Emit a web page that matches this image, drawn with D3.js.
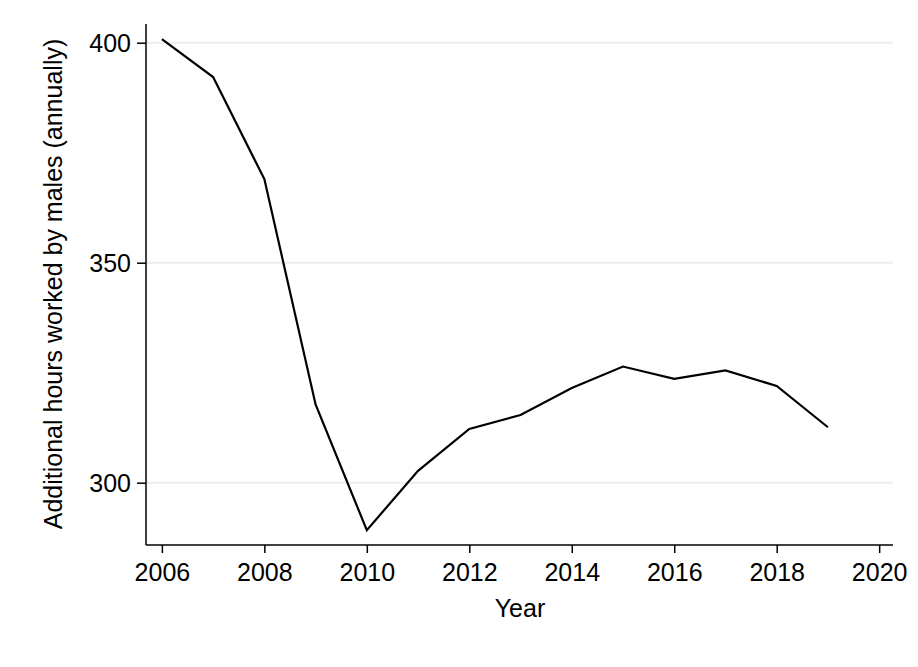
<!DOCTYPE html>
<html><head><meta charset="utf-8">
<script src="https://cdn.jsdelivr.net/npm/d3@7"></script>
<style>body{margin:0;background:#fff}svg{display:block}text{font-family:"Liberation Sans",Arial,sans-serif;fill:#000}</style>
</head><body>
<svg id="c" width="918" height="667"></svg>
<script>
const years = [2006,2007,2008,2009,2010,2011,2012,2013,2014,2015,2016,2017,2018,2019];
const hours = [400.8,392.2,369.0,317.8,289.2,302.7,312.2,315.4,321.5,326.4,323.6,325.5,322.0,312.6];
const xTicks = [2006,2008,2010,2012,2014,2016,2018,2020];
const yTicks = [300,350,400];

const svg = d3.select("#c");
const L=146, R=893, T=24, B=545;
const x = d3.scaleLinear().domain([2005.69,2020.27]).range([L,R]);
const y = d3.scaleLinear().domain([285.84,404.25]).range([B,T]);

svg.append("g").selectAll("line").data(yTicks).join("line")
  .attr("x1",L).attr("x2",R).attr("y1",d=>y(d)).attr("y2",d=>y(d))
  .attr("stroke","#e9eeee").attr("stroke-width",2);

const xa = svg.append("g").attr("transform",`translate(0,${B})`)
  .call(d3.axisBottom(x).tickValues(xTicks).tickFormat(d3.format("d")).tickSize(8).tickPadding(11).tickSizeOuter(0));
const ya = svg.append("g").attr("transform",`translate(${L},0)`)
  .call(d3.axisLeft(y).tickValues(yTicks).tickSize(9).tickPadding(6).tickSizeOuter(0));
[xa,ya].forEach(a=>{
  a.attr("font-size",25).attr("font-family","Liberation Sans, Arial, sans-serif");
  a.select(".domain").attr("stroke","#000").attr("stroke-width",1.5);
  a.selectAll(".tick line").attr("stroke","#000").attr("stroke-width",1.5);
  a.selectAll(".tick text").attr("fill","#000");
});
xa.selectAll(".tick text").attr("dy",null).attr("y",36);
ya.selectAll(".tick text").attr("dy","0.35em");
xa.select(".domain").attr("d",`M${L},0H${R}`);
ya.select(".domain").attr("d",`M0,${B}V${T}`);

svg.append("path").datum(years.map((d,i)=>[d,hours[i]]))
  .attr("fill","none").attr("stroke","#000").attr("stroke-width",2.2)
  .attr("d",d3.line().x(d=>x(d[0])).y(d=>y(d[1])));

svg.append("text").attr("x",520).attr("y",617).attr("text-anchor","middle")
  .attr("font-size",25).text("Year");
svg.append("text").attr("transform",`translate(62,284) rotate(-90)`).attr("text-anchor","middle")
  .attr("font-size",25).text("Additional hours worked by males (annually)");
</script>
</body></html>
